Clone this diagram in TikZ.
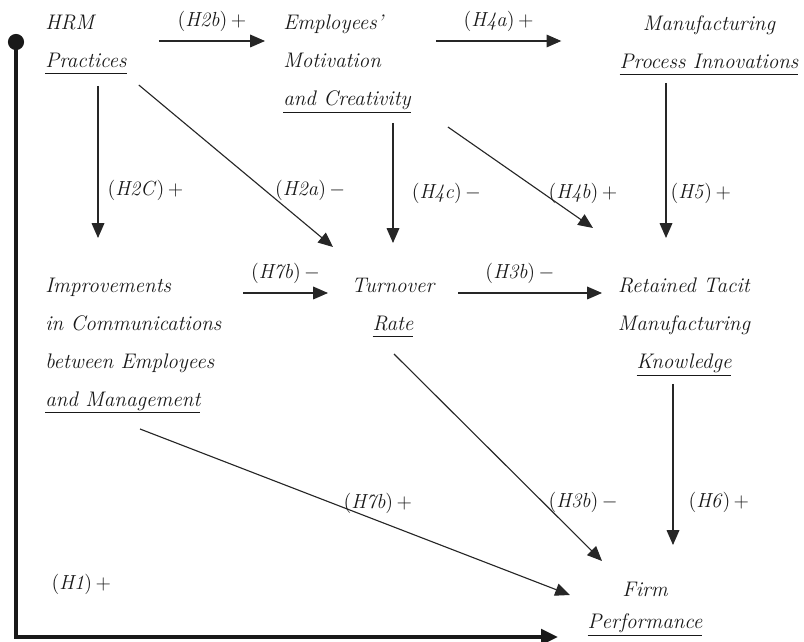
\documentclass[tikz,border=0pt]{standalone}
\usepackage{tikz}
\usetikzlibrary{arrows.meta, positioning}

\newsavebox{\ulbox}
\newcommand{\ulbar}[1]{\sbox{\ulbox}{#1}\rlap{\rule[-4.6pt]{\wd\ulbox}{0.5pt}}\usebox{\ulbox}}

\begin{document}
\begin{tikzpicture}[x=0.025cm, y=-0.025cm,
				box/.style={inner sep=0pt, font=\fontsize{15}{27}\selectfont\itshape, text=black!90},
				lbl/.style={inner sep=0pt, font=\fontsize{14.5}{16}\selectfont, text=black!90},
				arr/.style={-{Triangle[length=10.5pt, width=9pt]}, line width=0.8pt, black!85},
				heavy/.style={-{Triangle[length=12pt, width=11pt]}, line width=2.6pt, black!90},
				dotnode/.style={circle, fill=black!90, inner sep=0pt, minimum size=11.5pt}]
				
				\useasboundingbox (0,0) rectangle (804,642);
				
				\node[box, align=left, anchor=north west] (hrm) at (45,15) {HRM\\\ulbar{Practices}};
				\node[box, align=left, anchor=north west] (emp) at (283,15) {Employees'\\Motivation\\\ulbar{and Creativity}};
				\node[box, align=center, anchor=north] (mpi) at (709,15) {Manufacturing\\\ulbar{Process Innovations}};
				\node[box, align=left, anchor=north west] (imp) at (45,278) {Improvements\\in Communications\\between Employees\\\ulbar{and Management}};
				\node[box, align=center, anchor=north] (tor) at (393,278) {Turnover\\\ulbar{Rate}};
				\node[box, align=center, anchor=north] (rtk) at (684,278) {Retained Tacit\\Manufacturing\\\ulbar{Knowledge}};
				\node[box, align=center, anchor=north, font=\fontsize{15}{23}\selectfont\itshape] (fp) at (645,582) {Firm\\\ulbar{Performance}};
				\node[dotnode] (src) at (16,42) {};
				
				\draw[arr] ([shift={(32,26)}]hrm.north east) -- node[lbl, above=6.5pt] (l2b) {(\textit{H2b})\,$+$} ([shift={(-18,26)}]emp.north west);
				\draw[arr] ([shift={(25,26)}]emp.north east) -- node[lbl, above=6.5pt] (l4a) {(\textit{H4a})\,$+$} ([shift={(-58,26)}]mpi.north west);
				\draw[arr] ([shift={(53,71)}]hrm.north west) -- node[lbl, pos=0.684, right=6.4pt] (l2c) {(\textit{H2C})\,$+$} ([shift={(53,-40)}]imp.north west);
				\draw[arr] ([shift={(12,70)}]hrm.north east) -- node[lbl, pos=0.648, right=7pt] (l2a) {(\textit{H2a})\,$-$} ([shift={(-60,-31)}]tor.north);
				\draw[arr] ([shift={(0,108)}]emp.north -| tor.north) -- node[lbl, pos=0.583, right=13pt] (l4c) {(\textit{H4c})\,$-$} ([shift={(0,-35)}]tor.north);
				\draw[arr] ([shift={(37,112)}]emp.north east) -- node[lbl, pos=0.653, right=3.9pt] (l4b) {(\textit{H4b})\,$+$} ([shift={(-91,-50)}]rtk.north);
				\draw[arr] ([shift={(-43,68)}]mpi.north) -- node[lbl, pos=0.71, right=2.8pt] (l5) {(\textit{H5})\,$+$} ([shift={(-18,-40)}]rtk.north);
				\draw[arr] ([shift={(198,15)}]imp.north west) -- node[lbl, above=6.5pt] (l7b) {(\textit{H7b})\,$-$} ([shift={(-65,15)}]tor.north);
				\draw[arr] ([shift={(65,15)}]tor.north) -- node[lbl, pos=0.43, above=6.5pt] (l3b) {(\textit{H3b})\,$-$} ([shift={(-82,15)}]rtk.north);
				\draw[arr] ([shift={(-11,106)}]rtk.north) -- node[lbl, pos=0.733, right=10.7pt] (l6) {(\textit{H6})\,$+$} ([shift={(28,-37)}]fp.north);
				\draw[arr] ([shift={(1,76)}]tor.north) -- node[lbl, pos=0.715, right=3.8pt] (l3bb) {(\textit{H3b})\,$-$} ([shift={(-43,-21)}]fp.north);
				\draw[arr] ([shift={(95,151)}]imp.north west) -- node[lbl, pos=0.472, anchor=west, yshift=3pt] (l7bb) {(\textit{H7b})\,$+$} ([shift={(-75,13)}]fp.north);
				\draw[heavy] (src.center) |- node[lbl, pos=0.456, right=24pt] (l1) {(\textit{H1})\,$+$} ([shift={(-87,55)}]fp.north);
			\end{tikzpicture}
\end{document}
